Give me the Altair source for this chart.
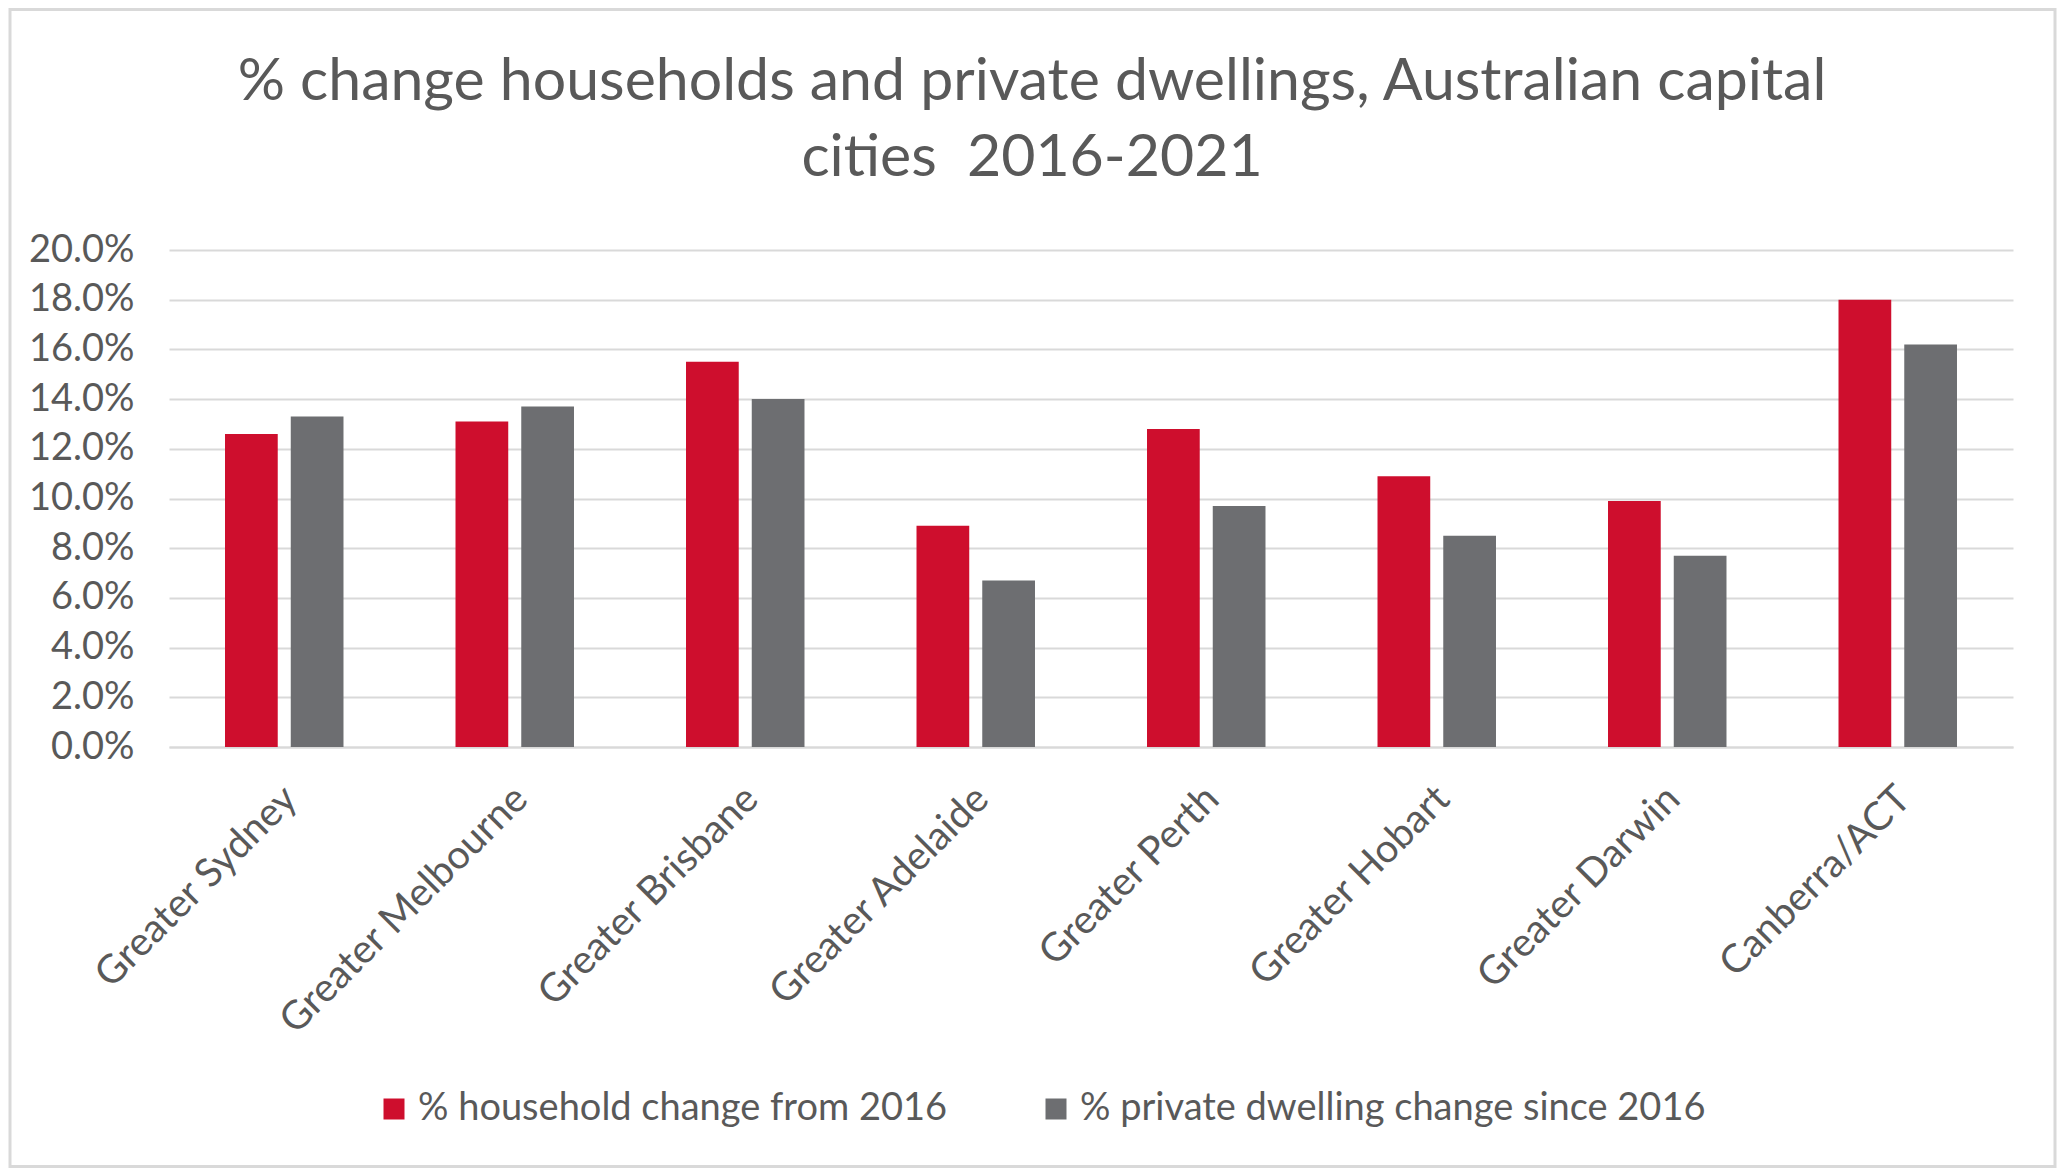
import altair as alt
import pandas as pd

# ---- data ----
cities = [
    "Greater Sydney", "Greater Melbourne", "Greater Brisbane", "Greater Adelaide",
    "Greater Perth", "Greater Hobart", "Greater Darwin", "Canberra/ACT",
]
household_pct = [12.6, 13.1, 15.5, 8.9, 12.8, 10.9, 9.9, 18.0]
dwelling_pct = [13.3, 13.7, 14.0, 6.7, 9.7, 8.5, 7.7, 16.2]
series_names = ["% household change from 2016", "% private dwelling change since 2016"]
series_colors = ["#CE0E2D", "#6D6E71"]
y_ticks = [0.0, 0.02, 0.04, 0.06, 0.08, 0.10, 0.12, 0.14, 0.16, 0.18, 0.20]
title_lines = ["% change households and private dwellings, Australian capital", "cities\u00a0 2016-2021"]

rows = []
for c, h, d in zip(cities, household_pct, dwelling_pct):
    rows.append({"city": c, "series": series_names[0], "value": h / 100})
    rows.append({"city": c, "series": series_names[1], "value": d / 100})
df = pd.DataFrame(rows)

FONT = "Lato"
TEXT = "#595959"
GRID = "#D9D9D9"

PLOT_W, PLOT_H = 1844, 497
PAD = {"left": 161, "top": 242, "right": 44, "bottom": 421}

bars = alt.Chart(df).mark_bar().encode(
    x=alt.X(
        "city:N", sort=cities, title=None,
        scale=alt.Scale(paddingInner=0.486, paddingOuter=0.243),
        axis=alt.Axis(
            labelAngle=-45, labelAlign="right", labelBaseline="top",
            labelOffset=-7, labelPadding=32, ticks=False, labelLimit=0,
            domainColor=GRID, domainWidth=2, grid=False,
            labelFontSize=39.5, labelColor=TEXT, labelFont=FONT,
        ),
    ),
    xOffset=alt.XOffset(
        "series:N", sort=series_names,
        scale=alt.Scale(paddingInner=0.198, paddingOuter=0),
    ),
    y=alt.Y(
        "value:Q", title=None,
        scale=alt.Scale(domain=[0, 0.2], nice=False),
        axis=alt.Axis(
            values=y_ticks, format=".1%", domain=False, ticks=False,
            gridColor=GRID, gridWidth=2, labelPadding=35,
            labelFontSize=38, labelColor=TEXT, labelFont=FONT,
        ),
    ),
    color=alt.Color(
        "series:N", sort=series_names,
        scale=alt.Scale(domain=series_names, range=series_colors),
        legend=alt.Legend(
            title=None, orient="none", legendX=206, legendY=840,
            direction="horizontal", symbolType="square", symbolSize=441,
            symbolStrokeWidth=0, labelFontSize=38, labelColor=TEXT,
            labelFont=FONT, labelOffset=5, columnPadding=89, padding=0,
            labelLimit=0,
        ),
    ),
)

border = alt.Chart(pd.DataFrame({"b": [0]})).mark_rect(
    fill="transparent", stroke=GRID, strokeWidth=3
).encode(
    x=alt.value(-159), x2=alt.value(1886),
    y=alt.value(-240.5), y2=alt.value(916.5),
)

chart = alt.layer(border, bars).properties(
    width=PLOT_W, height=PLOT_H,
    padding=PAD,
    autosize=alt.AutoSizeParams(type="none"),
    title=alt.TitleParams(
        text=title_lines, anchor="middle", frame="group", dx=-59, dy=180,
        fontSize=59, font=FONT, color=TEXT, fontWeight="normal",
        lineHeight=76, offset=0,
    ),
).configure_view(stroke=None)

chart.save("out.html", embed_options={"renderer": "svg", "actions": False})
